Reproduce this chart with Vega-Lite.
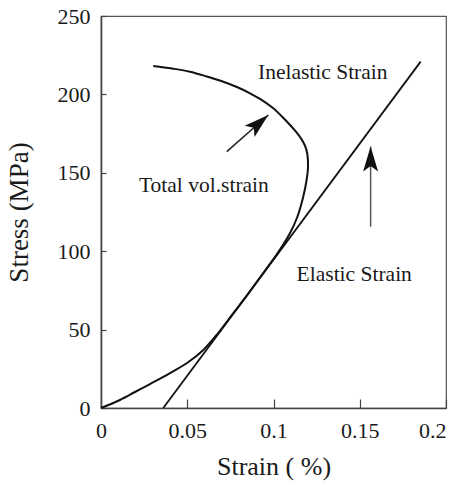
{
  "$schema": "https://vega.github.io/schema/vega-lite/v6.json",
  "width": 345,
  "height": 392,
  "autosize": {"type": "none"},
  "padding": {"left": 101, "top": 16, "right": 7, "bottom": 73},
  "background": "white",
  "datasets": {
    "volumetric": [
      {"idx": 0, "strain": 0.0, "stress": 0.0},
      {"idx": 1, "strain": 0.0110, "stress": 5.1},
      {"idx": 2, "strain": 0.0197, "stress": 10.2},
      {"idx": 3, "strain": 0.0284, "stress": 15.3},
      {"idx": 4, "strain": 0.0400, "stress": 22.3},
      {"idx": 5, "strain": 0.0499, "stress": 28.7},
      {"idx": 6, "strain": 0.0593, "stress": 37.0},
      {"idx": 7, "strain": 0.0679, "stress": 47.8},
      {"idx": 8, "strain": 0.0764, "stress": 60.0},
      {"idx": 9, "strain": 0.0856, "stress": 73.3},
      {"idx": 10, "strain": 0.0945, "stress": 86.7},
      {"idx": 11, "strain": 0.1025, "stress": 98.9},
      {"idx": 12, "strain": 0.1096, "stress": 111.6},
      {"idx": 13, "strain": 0.1138, "stress": 121.8},
      {"idx": 14, "strain": 0.1172, "stress": 134.6},
      {"idx": 15, "strain": 0.1192, "stress": 145.4},
      {"idx": 16, "strain": 0.1200, "stress": 153.7},
      {"idx": 17, "strain": 0.1196, "stress": 162.0},
      {"idx": 18, "strain": 0.1183, "stress": 167.1},
      {"idx": 19, "strain": 0.1163, "stress": 171.3},
      {"idx": 20, "strain": 0.1130, "stress": 176.2},
      {"idx": 21, "strain": 0.1096, "stress": 180.5},
      {"idx": 22, "strain": 0.1049, "stress": 185.9},
      {"idx": 23, "strain": 0.0999, "stress": 191.1},
      {"idx": 24, "strain": 0.0933, "stress": 196.4},
      {"idx": 25, "strain": 0.0864, "stress": 200.7},
      {"idx": 26, "strain": 0.0788, "stress": 204.7},
      {"idx": 27, "strain": 0.0709, "stress": 208.1},
      {"idx": 28, "strain": 0.0614, "stress": 211.4},
      {"idx": 29, "strain": 0.0516, "stress": 214.5},
      {"idx": 30, "strain": 0.0412, "stress": 216.5},
      {"idx": 31, "strain": 0.0303, "stress": 218.1}
    ],
    "elastic": [
      {"strain": 0.0361, "stress": 0.0},
      {"strain": 0.1853, "stress": 220.9}
    ],
    "arrows": [
      {"id": "total", "strain": 0.0729, "stress": 163.5, "strainTip": 0.0970, "stressTip": 186.9},
      {"id": "elastic", "strain": 0.1563, "stress": 115.6, "strainTip": 0.1563, "stressTip": 166.7}
    ],
    "labels": [
      {"text": "Inelastic Strain", "strain": 0.091, "stress": 209.6},
      {"text": "Total vol.strain", "strain": 0.022, "stress": 138.0},
      {"text": "Elastic Strain", "strain": 0.1134, "stress": 81.2}
    ]
  },
  "layer": [
    {
      "data": {"name": "volumetric"},
      "mark": {"type": "line", "color": "#111111", "strokeWidth": 2, "interpolate": "catmull-rom"},
      "encoding": {
        "x": {
          "field": "strain", "type": "quantitative",
          "scale": {"domain": [0, 0.2], "nice": false, "zero": false},
          "axis": {
            "title": "Strain ( %)",
            "values": [0, 0.05, 0.1, 0.15, 0.2],
            "format": "~g",
            "tickSize": -9,
            "labelPadding": 21,
            "titlePadding": 12,
            "titleFontSize": 26,
            "labelAlign": {"condition": {"test": "datum.value >= 0.2", "value": "right"}, "value": "center"}
          }
        },
        "y": {
          "field": "stress", "type": "quantitative",
          "scale": {"domain": [0, 250], "nice": false},
          "axis": {
            "title": "Stress (MPa)",
            "values": [0, 50, 100, 150, 200, 250],
            "tickSize": -5,
            "labelPadding": 16,
            "titlePadding": 24,
            "titleFontSize": 27
          }
        },
        "order": {"field": "idx", "type": "quantitative"}
      }
    },
    {
      "data": {"name": "elastic"},
      "mark": {"type": "line", "color": "#111111", "strokeWidth": 1.8},
      "encoding": {
        "x": {"field": "strain", "type": "quantitative"},
        "y": {"field": "stress", "type": "quantitative"}
      }
    },
    {
      "data": {"name": "arrows"},
      "mark": {"type": "rule", "strokeWidth": 1.5},
      "encoding": {
        "x": {"field": "strain", "type": "quantitative"},
        "y": {"field": "stress", "type": "quantitative"},
        "x2": {"field": "strainTip"},
        "y2": {"field": "stressTip"},
        "color": {
          "field": "id", "type": "nominal",
          "scale": {"domain": ["total", "elastic"], "range": ["#222222", "#555555"]},
          "legend": null
        }
      }
    },
    {
      "data": {"name": "arrows"},
      "transform": [{"filter": "datum.id === 'total'"}],
      "mark": {"type": "point", "shape": "M0,0 L0.6,2 L0,1.55 L-0.6,2 Z", "filled": true, "size": 625, "angle": 48.6, "color": "#111111", "opacity": 1, "strokeWidth": 0},
      "encoding": {
        "x": {"field": "strainTip", "type": "quantitative"},
        "y": {"field": "stressTip", "type": "quantitative"}
      }
    },
    {
      "data": {"name": "arrows"},
      "transform": [{"filter": "datum.id === 'elastic'"}],
      "mark": {"type": "point", "shape": "M0,0 L0.6,2 L0,1.55 L-0.6,2 Z", "filled": true, "size": 625, "angle": 0, "color": "#111111", "opacity": 1, "strokeWidth": 0},
      "encoding": {
        "x": {"field": "strainTip", "type": "quantitative"},
        "y": {"field": "stressTip", "type": "quantitative"}
      }
    },
    {
      "data": {"name": "labels"},
      "mark": {"type": "text", "align": "left", "baseline": "alphabetic", "font": "Liberation Serif", "fontSize": 21.5, "color": "#1a1a1a"},
      "encoding": {
        "x": {"field": "strain", "type": "quantitative"},
        "y": {"field": "stress", "type": "quantitative"},
        "text": {"field": "text", "type": "nominal"}
      }
    }
  ],
  "config": {
    "view": {"stroke": "#555555", "strokeWidth": 1.2},
    "axis": {
      "grid": false,
      "domainColor": "#444444",
      "domainWidth": 1.6,
      "tickColor": "#444444",
      "tickWidth": 1.2,
      "labelFont": "Liberation Serif",
      "labelFontSize": 22,
      "labelColor": "#1a1a1a",
      "titleFont": "Liberation Serif",
      "titleFontSize": 25,
      "titleFontWeight": "normal",
      "titleColor": "#1a1a1a"
    }
  }
}
